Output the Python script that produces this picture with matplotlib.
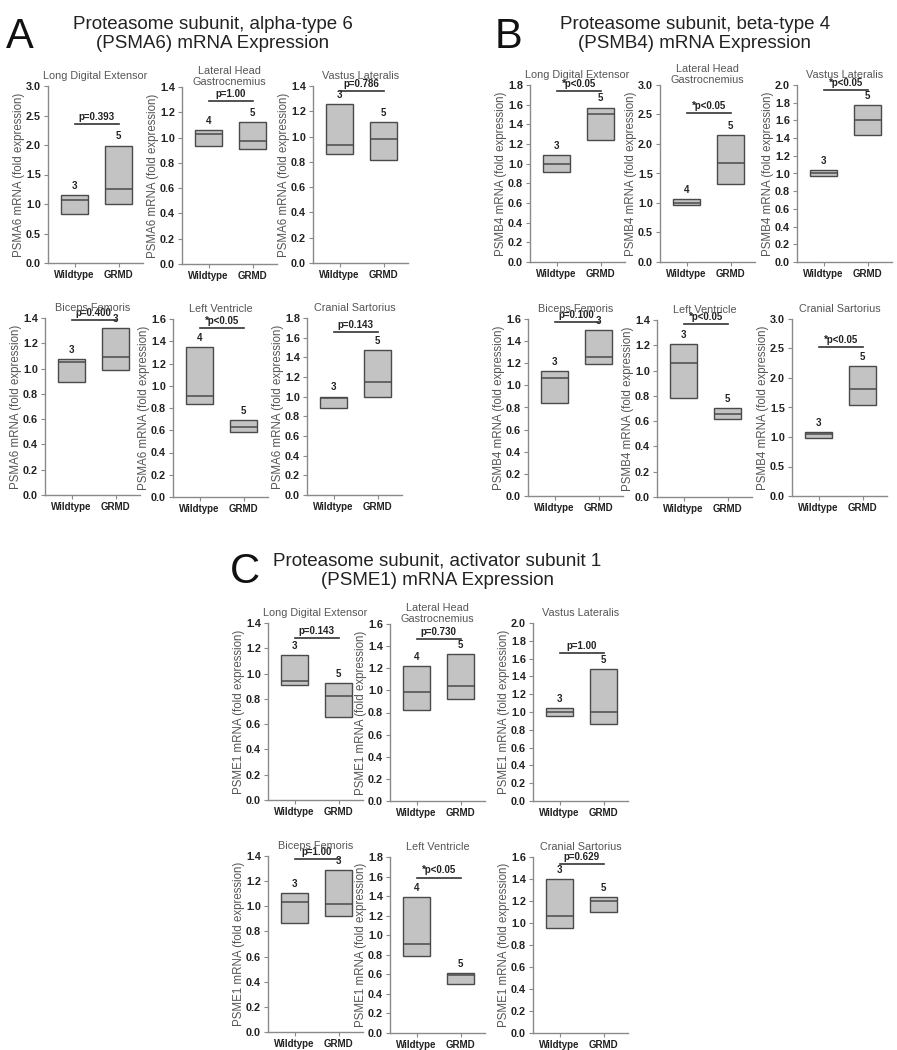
import matplotlib
matplotlib.use("Agg")
import matplotlib.pyplot as plt
import numpy as np

plt.rcParams['font.family'] = ['Liberation Sans', 'DejaVu Sans']

groups = ["Wildtype", "GRMD"]
muscles = ["Long Digital Extensor", "Lateral Head\nGastrocnemius", "Vastus Lateralis",
           "Biceps Femoris", "Left Ventricle", "Cranial Sartorius"]

# ---- PSMA6 (panel A): (low, median, high) of each box ----
psma6_wt = [(0.83, 1.07, 1.155), (0.935, 1.028, 1.057), (0.86, 0.934, 1.255),
            (0.89, 1.05, 1.075), (0.84, 0.91, 1.347), (0.883, 0.99, 1.0)]
psma6_grmd = [(1.0, 1.25, 1.99), (0.907, 0.975, 1.123), (0.813, 0.979, 1.116),
              (0.985, 1.09, 1.32), (0.58, 0.625, 0.69), (1.0, 1.145, 1.477)]
psma6_n_wt = [3, 4, 3, 3, 4, 3]
psma6_n_grmd = [5, 5, 5, 3, 5, 5]
psma6_p = ["p=0.393", "p=1.00", "p=0.786", "p=0.400", "*p<0.05", "p=0.143"]
psma6_ymax = [3.0, 1.4, 1.4, 1.4, 1.6, 1.8]
psma6_ystep = [0.5, 0.2, 0.2, 0.2, 0.2, 0.2]

# ---- PSMB4 (panel B) ----
psmb4_wt = [(0.92, 1.0, 1.09), (0.96, 1.0, 1.06), (0.97, 1.0, 1.04),
            (0.845, 1.066, 1.126), (0.78, 1.062, 1.207), (0.977, 1.045, 1.079)]
psmb4_grmd = [(1.24, 1.50, 1.57), (1.33, 1.68, 2.15), (1.44, 1.61, 1.77),
              (1.195, 1.256, 1.497), (0.613, 0.66, 0.705), (1.537, 1.81, 2.2)]
psmb4_n_wt = [3, 4, 3, 3, 3, 3]
psmb4_n_grmd = [5, 5, 5, 3, 5, 5]
psmb4_p = ["*p<0.05", "*p<0.05", "*p<0.05", "p=0.100", "*p<0.05", "*p<0.05"]
psmb4_ymax = [1.8, 3.0, 2.0, 1.6, 1.4, 3.0]
psmb4_ystep = [0.2, 0.5, 0.2, 0.2, 0.2, 0.5]

# ---- PSME1 (panel C) ----
psme1_wt = [(0.906, 0.943, 1.149), (0.824, 0.981, 1.217), (0.96, 0.996, 1.045),
            (0.87, 1.032, 1.103), (0.791, 0.907, 1.393), (0.951, 1.063, 1.398)]
psme1_grmd = [(0.66, 0.824, 0.924), (0.925, 1.04, 1.328), (0.86, 0.996, 1.48),
              (0.924, 1.019, 1.289), (0.50, 0.59, 0.615), (1.10, 1.198, 1.238)]
psme1_n_wt = [3, 4, 3, 3, 4, 3]
psme1_n_grmd = [5, 5, 5, 3, 5, 5]
psme1_p = ["p=0.143", "p=0.730", "p=1.00", "p=1.00", "*p<0.05", "p=0.629"]
psme1_ymax = [1.4, 1.6, 2.0, 1.4, 1.8, 1.6]
psme1_ystep = [0.2, 0.2, 0.2, 0.2, 0.2, 0.2]

# ---- layout (pixels: left, top, bottom) and significance-bar heights ----
W, H = 897, 1050
AX_W = 95
rects_a = [(48, 86, 263), (182, 87, 264), (313, 86, 263), (45, 318, 495), (173, 319, 497), (307, 318, 495)]
rects_b = [(530, 85, 262), (660, 85, 262), (797, 85, 262), (528, 319, 496), (657, 320, 497), (792, 319, 496)]
rects_c = [(268, 623, 800), (390, 624, 801), (533, 623, 801), (268, 856, 1032), (390, 857, 1033), (533, 857, 1033)]
bar_a = [2.35, 1.287, 1.363, 1.387, 1.52, 1.66]
bar_b = [1.74, 2.52, 1.94, 1.573, 1.366, 2.53]
bar_c = [1.281, 1.467, 1.66, 1.373, 1.59, 1.54]

BOX_FACE = "#c3c3c3"
BOX_EDGE = "#4a4a4a"
SPINE = "#8a8a8a"
TXT = "#222222"

fig = plt.figure(figsize=(W / 100, H / 100), dpi=100)


def panel(rect, gene, muscle, wt, grmd, n_wt, n_grmd, ptxt, ymax, ystep, bar_y):
    left, top, bottom = rect
    ax = fig.add_axes([left / W, 1 - bottom / H, AX_W / W, (bottom - top) / H])
    x = np.arange(len(groups))
    lows = [wt[0], grmd[0]]
    meds = [wt[1], grmd[1]]
    highs = [wt[2], grmd[2]]
    heights = [h - l for h, l in zip(highs, lows)]
    ax.bar(x, heights, bottom=lows, width=0.6, color=BOX_FACE, edgecolor=BOX_EDGE,
           linewidth=1.0, zorder=2)
    ax.hlines(meds, x - 0.3, x + 0.3, colors=BOX_EDGE, linewidth=1.1, zorder=3)
    for xi, top_v, n in zip(x, highs, [n_wt, n_grmd]):
        ax.annotate(str(n), (xi, top_v), xytext=(0, 3), textcoords="offset points",
                    ha="center", va="bottom", fontsize=7, fontweight="bold", color=TXT,
                    annotation_clip=False)
    ax.plot([0, 1], [bar_y, bar_y], color="#333333", linewidth=1.2, clip_on=False, zorder=4)
    ax.annotate(ptxt, (0.5, bar_y), xytext=(0, 1.5), textcoords="offset points",
                ha="center", va="bottom", fontsize=7, fontweight="bold", color=TXT,
                annotation_clip=False)
    ax.set_xlim(-0.6, 1.55)
    ax.set_ylim(0, ymax)
    ticks = np.arange(0, ymax + ystep / 2, ystep)
    ax.set_yticks(np.round(ticks, 2))
    ax.set_yticklabels([f"{v:.1f}" for v in ticks])
    ax.set_xticks(x)
    ax.set_xticklabels(groups)
    for lab in ax.get_xticklabels():
        lab.set_fontweight("bold")
        lab.set_fontsize(7)
        lab.set_color(TXT)
    for lab in ax.get_yticklabels():
        lab.set_fontweight("bold")
        lab.set_fontsize(7.8)
        lab.set_color(TXT)
    ax.tick_params(axis="both", direction="out", length=3, width=0.8, color=SPINE, pad=2)
    for s in ["top", "right"]:
        ax.spines[s].set_visible(False)
    for s in ["left", "bottom"]:
        ax.spines[s].set_color(SPINE)
        ax.spines[s].set_linewidth(1.0)
    ax.set_ylabel(f"{gene} mRNA (fold expression)", fontsize=8.3, color="#555555", labelpad=1)
    two_line = "\n" in muscle
    ax.set_title(muscle, fontsize=7.8, color="#555555", pad=0.5 if two_line else 5,
                 linespacing=1.1)
    return ax


for genes, rects, wts, grmds, nws, ngs, ps, ymaxs, ysteps, bars in [
    ("PSMA6", rects_a, psma6_wt, psma6_grmd, psma6_n_wt, psma6_n_grmd, psma6_p, psma6_ymax, psma6_ystep, bar_a),
    ("PSMB4", rects_b, psmb4_wt, psmb4_grmd, psmb4_n_wt, psmb4_n_grmd, psmb4_p, psmb4_ymax, psmb4_ystep, bar_b),
    ("PSME1", rects_c, psme1_wt, psme1_grmd, psme1_n_wt, psme1_n_grmd, psme1_p, psme1_ymax, psme1_ystep, bar_c),
]:
    for i in range(6):
        panel(rects[i], genes, muscles[i], wts[i], grmds[i], nws[i], ngs[i], ps[i],
              ymaxs[i], ysteps[i], bars[i])

# Headings
fig.text(20 / W, 1 - 37 / H, "A", fontsize=30, ha="center", va="center", color="#111111")
fig.text(508 / W, 1 - 37 / H, "B", fontsize=30, ha="center", va="center", color="#111111")
fig.text(245 / W, 1 - 572 / H, "C", fontsize=30, ha="center", va="center", color="#111111")

fig.text(213 / W, 1 - 34 / H, "Proteasome subunit, alpha-type 6\n(PSMA6) mRNA Expression",
         fontsize=13.5, ha="center", va="center", color="#222222", linespacing=1.2)
fig.text(695 / W, 1 - 34 / H, "Proteasome subunit, beta-type 4\n(PSMB4) mRNA Expression",
         fontsize=13.5, ha="center", va="center", color="#222222", linespacing=1.2)
fig.text(437 / W, 1 - 571 / H, "Proteasome subunit, activator subunit 1\n(PSME1) mRNA Expression",
         fontsize=13.5, ha="center", va="center", color="#222222", linespacing=1.2)

fig.savefig("out.png", dpi=100, facecolor="white")
